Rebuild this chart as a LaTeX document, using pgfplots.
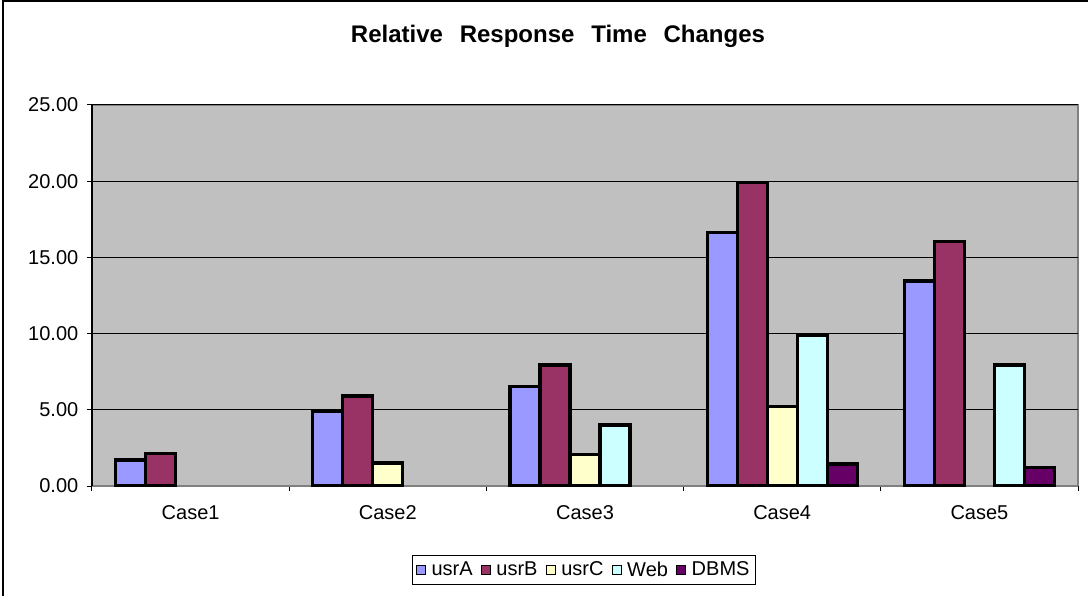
\documentclass[border=0pt]{standalone}
\usepackage{pgfplots}
\pgfplotsset{compat=1.18}
\usepackage{fontspec}
\setmainfont{Liberation Sans}

\definecolor{plotbg}{RGB}{192,192,192}
\definecolor{frameg}{RGB}{128,128,128}
\definecolor{cA}{RGB}{153,153,255}
\definecolor{cB}{RGB}{153,51,102}
\definecolor{cC}{RGB}{255,255,204}
\definecolor{cW}{RGB}{204,255,255}
\definecolor{cD}{RGB}{102,0,102}

\begin{document}
\begin{tikzpicture}
\useasboundingbox (0,0) rectangle (816pt,447pt);
\draw[line width=1.1pt] (2.25pt,0) -- (2.25pt,446.3pt) -- (816pt,446.3pt);
\node[anchor=base, font=\bfseries\fontsize{18}{21}\selectfont] at (418.5pt,415.3pt)
  {Relative\hspace{0.7em}Response\hspace{0.7em}Time\hspace{0.7em}Changes};

\begin{axis}[
  at={(69pt,82.5pt)}, anchor=south west,
  scale only axis,
  width=739.5pt, height=285.75pt,
  ybar=0pt,
  bar width=22.5pt,
  xmin=-0.5, xmax=4.5,
  ymin=0, ymax=25,
  xtick={-0.5,0.5,1.5,2.5,3.5,4.5},
  xticklabels={Case1,Case2,Case3,Case4,Case5,},
  xticklabel style={xshift=73.95pt, yshift=-7pt},
  ytick={0,5,10,15,20,25},
  yticklabel style={xshift=-3pt, /pgf/number format/.cd, fixed, fixed zerofill, precision=2, assume math mode=true},
  tick label style={font=\fontsize{15}{18}\selectfont, black},
  tick align=outside,
  major tick length=3.75pt,
  tick style={black, line width=0.75pt},
  ymajorgrids,
  grid style={black, line width=0.75pt},
  axis x line*=bottom,
  axis y line*=left,
  x axis line style={frameg, line width=2pt, -},
  y axis line style={black, line width=1pt, -},
  axis background/.style={fill=plotbg, draw=frameg, line width=2pt},
  legend columns=5,
  legend style={at={(0.499,-0.2205)}, anchor=center, draw=black, line width=0.75pt,
    font=\fontsize{15}{18}\selectfont, inner sep=2.5pt,
    /tikz/every odd column/.append style={column sep=2pt},
    /tikz/every even column/.append style={column sep=4pt}},
  legend image code/.code={\draw[#1, line width=1pt] (0pt,-3.4pt) rectangle (6.8pt,3.4pt);},
  every axis plot/.append style={draw=black, line width=2.5pt},
]
\addplot[fill=cA] coordinates {(0,1.7) (1,4.9) (2,6.55) (3,16.65) (4,13.45)};
\addplot[fill=cB] coordinates {(0,2.15) (1,5.9) (2,7.95) (3,19.9) (4,16.05)};
\addplot[fill=cC] coordinates {(1,1.5) (2,2.05) (3,5.2)};
\addplot[fill=cW] coordinates {(2,4.0) (3,9.9) (4,7.95)};
\addplot[fill=cD] coordinates {(3,1.45) (4,1.2)};
\legend{usrA,usrB,usrC,Web,DBMS}
\end{axis}
\end{tikzpicture}
\end{document}
